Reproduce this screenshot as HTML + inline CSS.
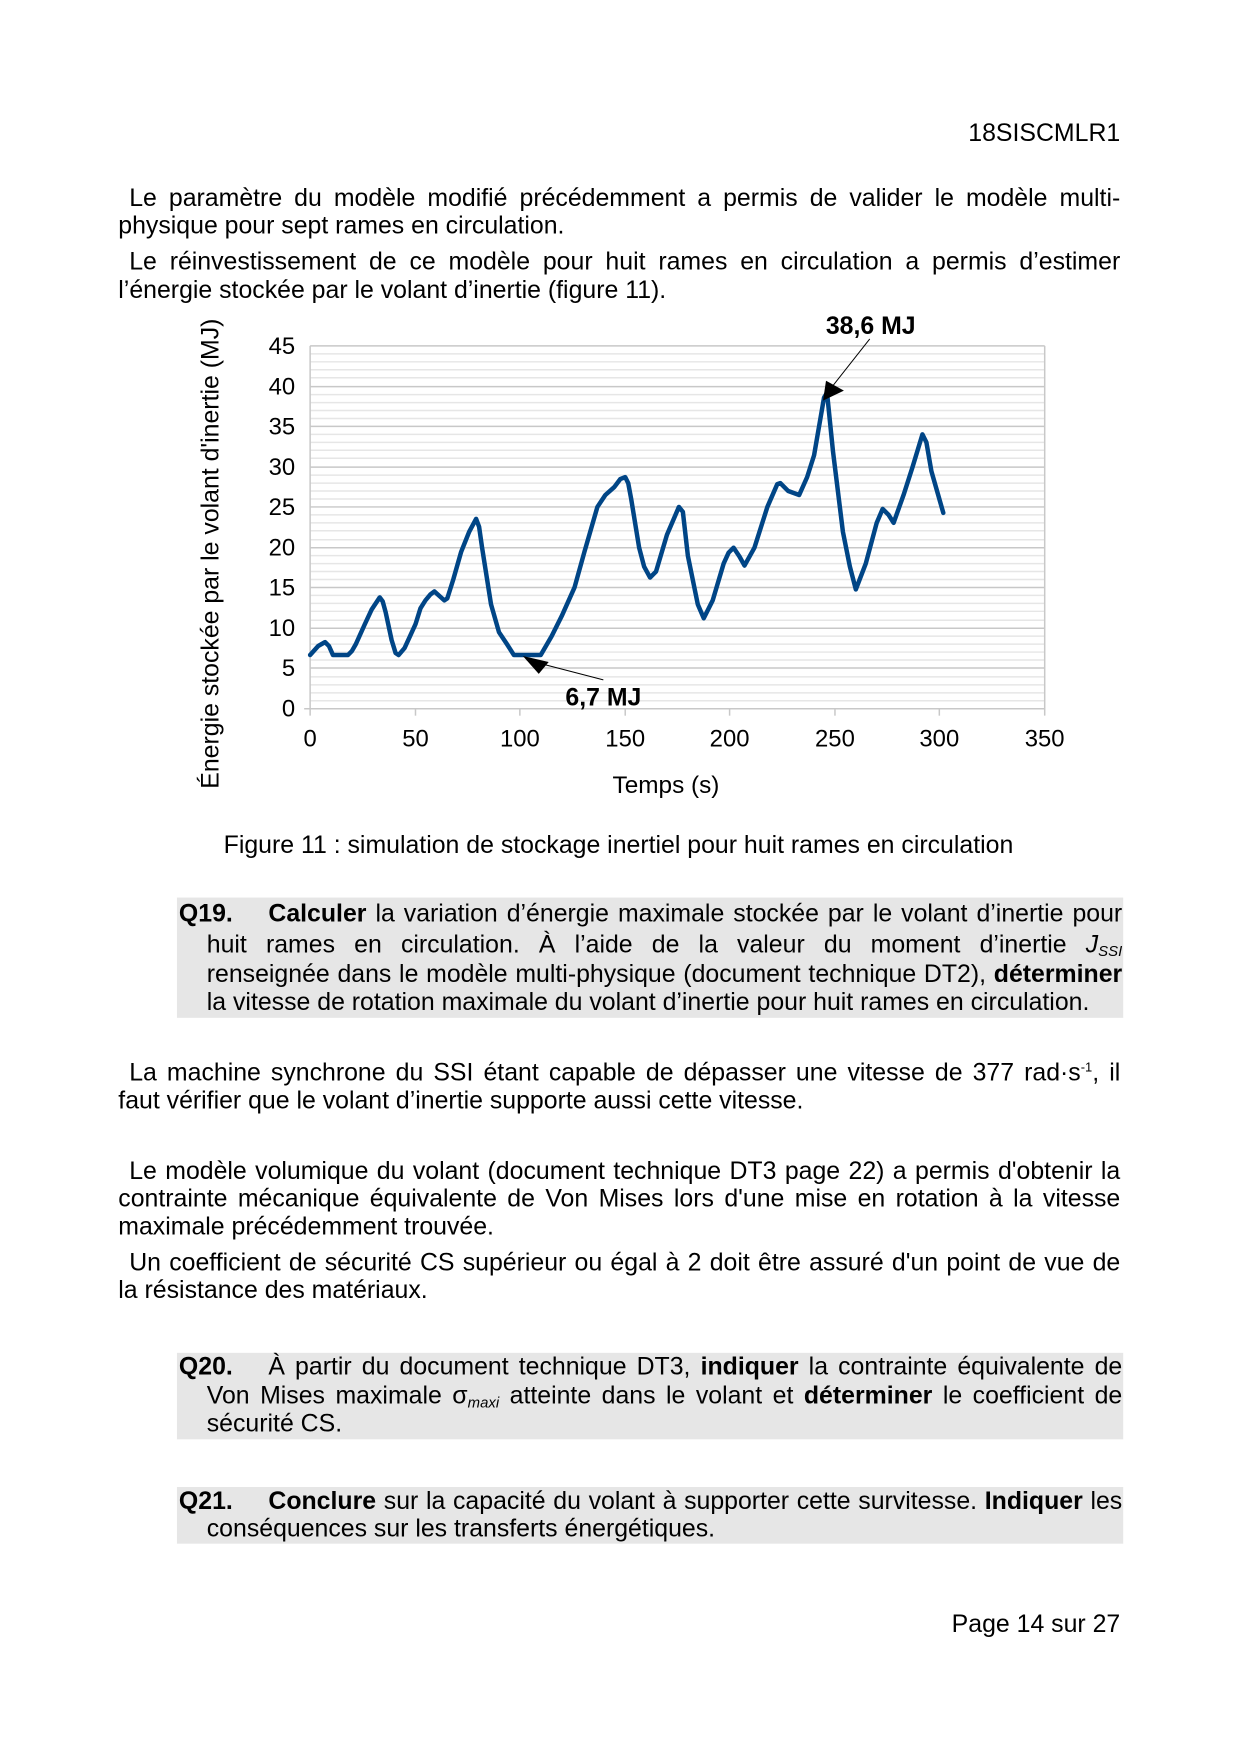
<!DOCTYPE html>
<html><head><meta charset="utf-8">
<style>
html,body{margin:0;padding:0;background:#fff}
body{width:1240px;height:1754px;position:relative;overflow:hidden;font-family:"Liberation Sans",sans-serif;font-size:25px;color:#000}
#w{position:absolute;left:0;top:0;width:1240px;height:1754px;transform:scale(0.994);transform-origin:0 0}
.l{position:absolute;left:119px;width:1008px;height:29px;line-height:29px;white-space:nowrap}
.j{text-align:justify;text-align-last:justify;white-space:normal}
.i{padding-left:11px;width:997px}
.box{position:absolute;left:178px;width:952px;background:#e6e6e6}
.q{left:208px;width:921px}
b{font-weight:bold}
sub{font-size:15px;font-style:italic;vertical-align:-4px;line-height:0}
sup{font-size:13px;line-height:0;vertical-align:9px}
</style></head><body><div id="w">
<div class="l" style="top:120px;text-align:right">18SISCMLR1</div>
<div class="l j i" style="top:185px">Le paramètre du modèle modifié précédemment a permis de valider le modèle multi-</div>
<div class="l" style="top:213px">physique pour sept rames en circulation.</div>
<div class="l j i" style="top:249px">Le réinvestissement de ce modèle pour huit rames en circulation a permis d’estimer</div>
<div class="l" style="top:278px">l’énergie stockée par le volant d’inertie (figure 11).</div>

<svg style="position:absolute;left:0;top:0" width="1240" height="900" font-family="Liberation Sans, sans-serif">
<g stroke="#e6e6e6" stroke-width="1.5">
<line x1="312" x2="1051" y1="705" y2="705"/><line x1="312" x2="1051" y1="697" y2="697"/><line x1="312" x2="1051" y1="689" y2="689"/><line x1="312" x2="1051" y1="681" y2="681"/>
<line x1="312" x2="1051" y1="664" y2="664"/><line x1="312" x2="1051" y1="656" y2="656"/><line x1="312" x2="1051" y1="648" y2="648"/><line x1="312" x2="1051" y1="640" y2="640"/>
<line x1="312" x2="1051" y1="624" y2="624"/><line x1="312" x2="1051" y1="615" y2="615"/><line x1="312" x2="1051" y1="607" y2="607"/><line x1="312" x2="1051" y1="599" y2="599"/>
<line x1="312" x2="1051" y1="583" y2="583"/><line x1="312" x2="1051" y1="575" y2="575"/><line x1="312" x2="1051" y1="567" y2="567"/><line x1="312" x2="1051" y1="559" y2="559"/>
<line x1="312" x2="1051" y1="543" y2="543"/><line x1="312" x2="1051" y1="534" y2="534"/><line x1="312" x2="1051" y1="526" y2="526"/><line x1="312" x2="1051" y1="518" y2="518"/>
<line x1="312" x2="1051" y1="502" y2="502"/><line x1="312" x2="1051" y1="494" y2="494"/><line x1="312" x2="1051" y1="486" y2="486"/><line x1="312" x2="1051" y1="478" y2="478"/>
<line x1="312" x2="1051" y1="461" y2="461"/><line x1="312" x2="1051" y1="453" y2="453"/><line x1="312" x2="1051" y1="445" y2="445"/><line x1="312" x2="1051" y1="437" y2="437"/>
<line x1="312" x2="1051" y1="421" y2="421"/><line x1="312" x2="1051" y1="413" y2="413"/><line x1="312" x2="1051" y1="405" y2="405"/><line x1="312" x2="1051" y1="397" y2="397"/>
<line x1="312" x2="1051" y1="380" y2="380"/><line x1="312" x2="1051" y1="372" y2="372"/><line x1="312" x2="1051" y1="364" y2="364"/><line x1="312" x2="1051" y1="356" y2="356"/>
</g>
<g stroke="#c8c8c8" stroke-width="1.5">
<line x1="312" x2="1051" y1="348" y2="348"/><line x1="312" x2="1051" y1="389" y2="389"/><line x1="312" x2="1051" y1="429" y2="429"/><line x1="312" x2="1051" y1="470" y2="470"/><line x1="312" x2="1051" y1="510" y2="510"/><line x1="312" x2="1051" y1="551" y2="551"/><line x1="312" x2="1051" y1="591" y2="591"/><line x1="312" x2="1051" y1="632" y2="632"/><line x1="312" x2="1051" y1="672" y2="672"/>
<line x1="312" x2="312" y1="348" y2="720"/><line x1="1051" x2="1051" y1="348" y2="720"/><line x1="306" x2="1051" y1="713" y2="713"/>
<line x1="418" x2="418" y1="713" y2="720"/><line x1="523" x2="523" y1="713" y2="720"/><line x1="629" x2="629" y1="713" y2="720"/><line x1="734" x2="734" y1="713" y2="720"/><line x1="840" x2="840" y1="713" y2="720"/><line x1="945" x2="945" y1="713" y2="720"/>
</g>
<g font-size="24" text-anchor="end">
<text x="297" y="356">45</text><text x="297" y="397">40</text><text x="297" y="437">35</text><text x="297" y="478">30</text><text x="297" y="518">25</text><text x="297" y="559">20</text><text x="297" y="599">15</text><text x="297" y="640">10</text><text x="297" y="680">5</text><text x="297" y="721">0</text>
</g>
<g font-size="24" text-anchor="middle">
<text x="312" y="751">0</text><text x="418" y="751">50</text><text x="523" y="751">100</text><text x="629" y="751">150</text><text x="734" y="751">200</text><text x="840" y="751">250</text><text x="945" y="751">300</text><text x="1051" y="751">350</text>
<text x="670" y="798" font-size="24.5">Temps (s)</text>
<text transform="translate(220,557) rotate(-90)" font-size="25">Énergie stockée par le volant d'inertie (MJ)</text>
</g>
<polyline fill="none" stroke="#004586" stroke-width="4.5" stroke-linejoin="round" stroke-linecap="round" points="312,659 320,650 327,646 331,650 335,659 350,659 354,655 358,648 367,628 374,613 382,601 385,605 388,616 394,644 398,657 401,659 407,652 418,628 423,612 428,604 433,598 437,595 447,604 450,602 456,583 464,555 472,535 479,522 482,530 485,551 494,608 502,636 510,648 517,659 544,659 555,640 565,620 578,591 588,555 601,510 609,498 618,490 624,482 629,480 632,486 635,502 643,551 648,570 654,581 660,575 671,538 683,510 687,515 692,559 702,608 708,622 717,604 728,567 733,556 738,551 744,560 749,569 759,551 772,510 782,487 785,486 793,494 804,498 812,480 819,458 829,400 832,395 838,454 848,535 855,570 861,593 871,567 882,526 888,512 894,518 899,526 909,498 918,470 928,437 932,445 937,474 949,516"/>
<g font-size="25" font-weight="bold" text-anchor="middle">
<text x="876" y="336">38,6 MJ</text>
<text x="607" y="710">6,7 MJ</text>
</g>
<line x1="875" y1="341" x2="834" y2="393" stroke="#000" stroke-width="1"/>
<polygon points="828,403 831,383 849,393" fill="#000"/>
<line x1="607" y1="684" x2="530" y2="664" stroke="#000" stroke-width="1"/>
<polygon points="526,660 552,666 542,678" fill="#000"/>
</svg>

<div class="l" style="left:225px;top:836px">Figure 11 : simulation de stockage inertiel pour huit rames en circulation</div>

<div class="box" style="top:903px;height:121px"></div>
<div class="l" style="left:180px;width:950px;top:905px"><b>Q19.</b></div>
<div class="l j" style="left:270px;width:859px;top:905px"><b>Calculer</b> la variation d’énergie maximale stockée par le volant d’inertie pour</div>
<div class="l j q" style="top:936px">huit rames en circulation. À l’aide de la valeur du moment d’inertie <i>J</i><sub>SSI</sub></div>
<div class="l j q" style="top:966px">renseignée dans le modèle multi-physique (document technique DT2), <b>déterminer</b></div>
<div class="l q" style="top:994px">la vitesse de rotation maximale du volant d’inertie pour huit rames en circulation.</div>

<div class="l j i" style="top:1065px">La machine synchrone du SSI étant capable de dépasser une vitesse de 377 rad·s<sup>-1</sup>, il</div>
<div class="l" style="top:1093px">faut vérifier que le volant d’inertie supporte aussi cette vitesse.</div>

<div class="l j i" style="top:1164px">Le modèle volumique du volant (document technique DT3 page 22) a permis d'obtenir la</div>
<div class="l j" style="top:1192px">contrainte mécanique équivalente de Von Mises lors d'une mise en rotation à la vitesse</div>
<div class="l" style="top:1220px">maximale précédemment trouvée.</div>
<div class="l j i" style="top:1256px">Un coefficient de sécurité CS supérieur ou égal à 2 doit être assuré d'un point de vue de</div>
<div class="l" style="top:1284px">la résistance des matériaux.</div>

<div class="box" style="top:1361px;height:87px"></div>
<div class="l" style="left:180px;top:1361px"><b>Q20.</b></div>
<div class="l j" style="left:270px;width:859px;top:1361px">À partir du document technique DT3, <b>indiquer</b> la contrainte équivalente de</div>
<div class="l j q" style="top:1390px">Von Mises maximale σ<sub>maxi</sub> atteinte dans le volant et <b>déterminer</b> le coefficient de</div>
<div class="l q" style="top:1418px">sécurité CS.</div>

<div class="box" style="top:1496px;height:57px"></div>
<div class="l" style="left:180px;top:1496px"><b>Q21.</b></div>
<div class="l j" style="left:270px;width:859px;top:1496px"><b>Conclure</b> sur la capacité du volant à supporter cette survitesse. <b>Indiquer</b> les</div>
<div class="l q" style="top:1524px">conséquences sur les transferts énergétiques.</div>

<div class="l" style="top:1620px;text-align:right">Page 14 sur 27</div>
</div></body></html>
